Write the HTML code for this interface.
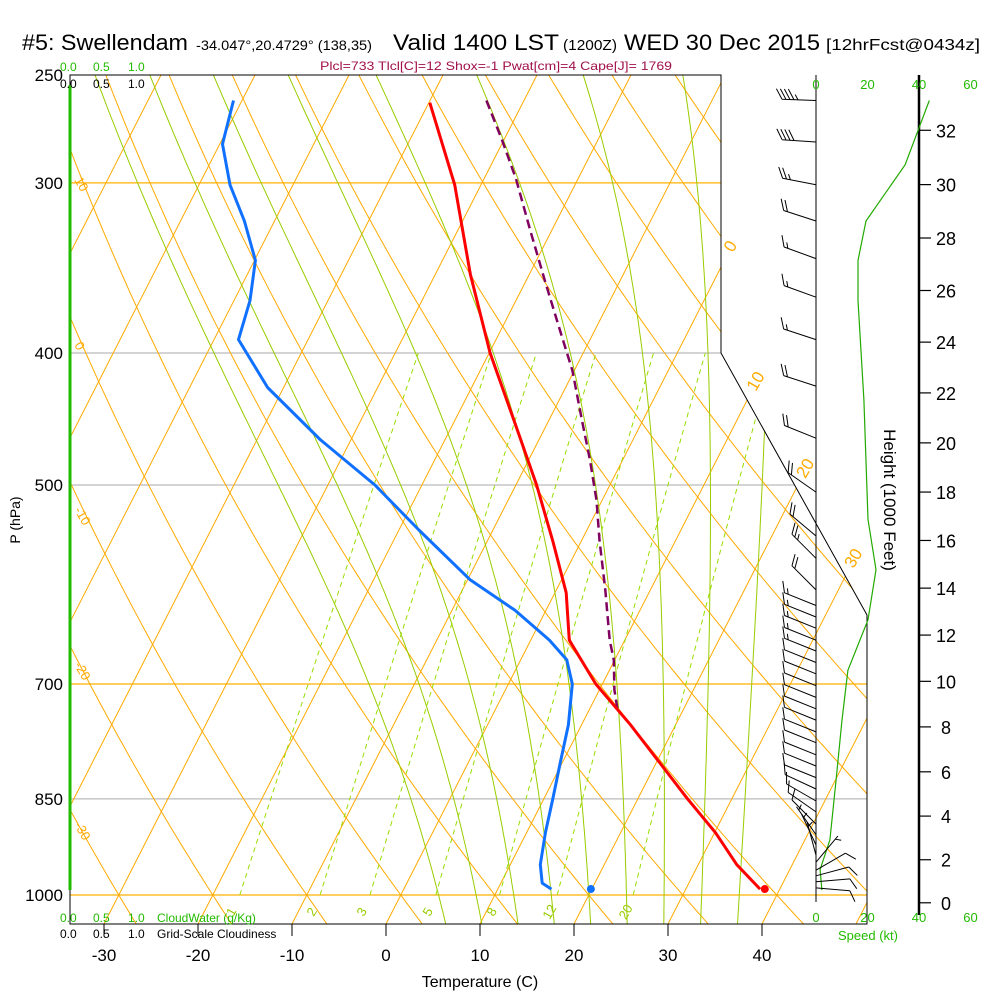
<!DOCTYPE html>
<html><head><meta charset="utf-8"><style>
html,body{margin:0;padding:0;background:#fff;}
svg{display:block;font-family:"Liberation Sans",Arial,sans-serif;}
</style></head><body>
<svg id="chart" width="1000" height="1000" viewBox="0 0 1000 1000" xmlns="http://www.w3.org/2000/svg">
<defs><clipPath id="plotclip"><polygon points="70,75 721,75 721,353 867,615 867,924 70,924"/></clipPath></defs>
<g>
<text x="22" y="50" font-size="22" textLength="166" lengthAdjust="spacingAndGlyphs">#5: Swellendam</text>
<text x="196" y="50" font-size="14" textLength="176" lengthAdjust="spacingAndGlyphs">-34.047°,20.4729° (138,35)</text>
<text x="393" y="50" font-size="22" textLength="166" lengthAdjust="spacingAndGlyphs">Valid 1400 LST</text>
<text x="563" y="50" font-size="15" textLength="54" lengthAdjust="spacingAndGlyphs">(1200Z)</text>
<text x="624" y="50" font-size="22" textLength="196" lengthAdjust="spacingAndGlyphs">WED 30 Dec 2015</text>
<text x="826" y="50" font-size="16" textLength="154" lengthAdjust="spacingAndGlyphs">[12hrFcst@0434z]</text>
</g>
<text x="320" y="70" font-size="12" fill="#a0104a" textLength="352" lengthAdjust="spacingAndGlyphs">Plcl=733 Tlcl[C]=12 Shox=-1 Pwat[cm]=4 Cape[J]= 1769</text>
<g id="grid" clip-path="url(#plotclip)"></g>
<g id="profiles" clip-path="url(#plotclip)"></g>
<g id="frame">
<polygon points="70,75 721,75 721,353 867,615 867,924 70,924" fill="none" stroke="#000" stroke-width="1"/>
<line x1="70" y1="85" x2="70" y2="890" stroke="#22bb00" stroke-width="3"/>
<line x1="816" y1="75" x2="816" y2="902" stroke="#000" stroke-width="1"/>
<line x1="919" y1="75" x2="919" y2="915" stroke="#000" stroke-width="2.5"/>
</g>
<g id="labels">
<g font-size="12">
<text x="60" y="71" fill="#22bb00">0.0</text><text x="93" y="71" fill="#22bb00">0.5</text><text x="128" y="71" fill="#22bb00">1.0</text>
<text x="60" y="88" fill="#000">0.0</text><text x="93" y="88" fill="#000">0.5</text><text x="128" y="88" fill="#000">1.0</text>
</g>
<g font-size="12">
<text x="60" y="922" fill="#22bb00">0.0</text><text x="93" y="922" fill="#22bb00">0.5</text><text x="128" y="922" fill="#22bb00">1.0</text>
<text x="157" y="922" fill="#22bb00">CloudWater (g/Kg)</text>
<text x="60" y="938" fill="#000">0.0</text><text x="93" y="938" fill="#000">0.5</text><text x="128" y="938" fill="#000">1.0</text>
<text x="157" y="938" fill="#000">Grid-Scale Cloudiness</text>
</g>
<text x="480" y="987" font-size="16" text-anchor="middle">Temperature (C)</text>
<text transform="translate(20,520) rotate(-90)" font-size="14" text-anchor="middle">P (hPa)</text>
<text transform="translate(884,500) rotate(90)" font-size="17" text-anchor="middle">Height (1000 Feet)</text>
<text x="868" y="940" font-size="13" fill="#22bb00" text-anchor="middle">Speed (kt)</text>
</g>
<g id="dyn"></g>
</svg>
<script>
// ---- data ----
const isobarLevels=[300,400,500,700,850,1000];
const isobarColors=['#ffb000','#bbbbbb','#bbbbbb','#ffb000','#bbbbbb','#ffb000'];
const pressureLabels=[250,300,400,500,700,850,1000];
const tempTicks=[-30,-20,-10,0,10,20,30,40];
const thetaLabelVals=[10,0,-10,-20,-30];
const thetaLabelY=[180,345,510,665,825];
const isoLabelVals=[0,10,20,30];
const isoLabelY=[243,378,465,555];
const mixRatios=[1,2,3,5,8,12,20];
const moistT0=[4,8,12,16,20,24,28,32,36];
const tempP=[262,301,350,400,450,500,550,600,650,700,750,800,850,900,950,990];
const tempC=[-39.9,-32.8,-26.3,-19.9,-13.5,-7.8,-3.0,1.2,4.1,9.3,15.2,20.4,25.3,30.1,34.1,37.9];
const dewP=[261,281,301,320,342,366,391,424,463,500,540,587,618,650,672,700,750,800,852,900,950,980,990];
const dewC=[-60.9,-59.7,-56.7,-53.2,-49.9,-48.3,-47.4,-41.7,-33.3,-25.0,-17.8,-9.7,-3.3,2.0,4.9,6.8,8.6,9.8,11.0,12.0,13.2,14.4,15.7];
const parcelP=[261,279,298,325,354,385,412,448,479,513,549,597,650,672,707,731];
const parcelC=[-34.0,-30.2,-26.6,-22.3,-18.0,-13.7,-10.2,-6.5,-3.5,-0.6,1.9,5.2,8.4,9.9,11.6,13.0];
const sfcTempC=38.4, sfcDewC=19.9, sfcP=990;
const windP=[261,280,301,320,341,364,391,423,462,506,
 545,566,597,613,625,637,650,662,675,688,
 702,716,730,744,759,773,789,804,820,836,
 853,869,887,903,919,935,946,959,968,978,988];
const windDir=[272,274,281,288,290,290,288,288,292,305,
 310,315,315,292,292,292,292,292,292,292,
 292,292,292,292,292,292,292,292,292,295,
 300,305,315,325,335,345,40,60,75,85,95];
const windSpd=[44,38,27,19,16,16,17,18,19,20,
 22,23,21,15,15,15,15,15,12,10,
 10,10,10,10,10,10,10,10,10,10,
 10,10,8,6,5,5,5,8,10,12,12];
const speedP=[261,291,320,342,366,433,530,577,628,684,744,823,911,958,992];
const speedKt=[44,34.6,19.4,16.3,16.3,18.6,20.2,23.3,20.2,12.4,10.1,7.8,5.4,1.6,2.3];
const heightTicks=[0,2,4,6,8,10,12,14,16,18,20,22,24,26,28,30,32];
const speedTicks=[0,20,40,60];

// ---- axes ----
const NS='http://www.w3.org/2000/svg';
const Y0=895, SC=591.5;
function yP(p){return Y0-SC*Math.log(1000/p);}
function xT(T,y){return 386+9.4*T+0.51*(924-y);}
function xSpd(s){return 816+s*51.5/20;}
function mk(tag,attrs,parent){const e=document.createElementNS(NS,tag);for(const k in attrs)e.setAttribute(k,attrs[k]);parent.appendChild(e);return e;}
const grid=document.getElementById('grid'), prof=document.getElementById('profiles'), dyn=document.getElementById('dyn');
function pathFrom(pts){return pts.map((q,i)=>(i?'L':'M')+q[0].toFixed(1)+','+q[1].toFixed(1)).join('');}

// isobars
isobarLevels.forEach((p,i)=>{const y=yP(p);
 const l=mk('line',{x1:70,y1:y,x2:867,y2:y,stroke:isobarColors[i],'stroke-width':1.2},grid);
 
 });
// isotherms
for(let T=-110;T<=50;T+=10){const y1=924,y2=75;
 const l=mk('line',{x1:xT(T,y1),y1:y1,x2:xT(T,y2),y2:y2,stroke:'#ffaa00','stroke-width':1},grid);
 
 }
// dry adiabats
for(let th=-40;th<=140;th+=10){const pts=[];
 for(let p=1050;p>=250;p-=10){const T=(th+273.15)*Math.pow(p/1000,0.2857)-273.15;const y=yP(p);pts.push([xT(T,y),y]);}
 const e=mk('path',{d:pathFrom(pts),fill:'none',stroke:'#ffaa00','stroke-width':1},grid);
 
 }
// moist adiabats
function es(T){return 6.112*Math.exp(17.67*T/(T+243.5));}
function moist(T0){const out=[];let T=T0+273.15;const Rd=287,cp=1005,L=2.5e6,eps=0.622;
 function dTdp(T,p){const rs=eps*es(T-273.15)/(p-es(T-273.15));return (Rd*T+L*rs)/(p*(cp+L*L*rs*eps/(Rd*T*T)));}
 let Td=T;for(let p=1000;p<1050;p+=5){Td+=dTdp(Td,p)*5;}
 T=Td;for(let p=1050;p>=250;p-=5){const y=yP(p);out.push([xT(T-273.15,y),y]);T-=dTdp(T,p)*5;}
 return out;}
moistT0.forEach(t0=>{const e=mk('path',{d:pathFrom(moist(t0)),fill:'none',stroke:'#99cc00','stroke-width':1},grid);
 
 });
// mixing ratio lines
function mixT(w,p){const e=w*p/(622+w);const a=Math.log(e/6.112);return 243.5*a/(17.67-a);}
mixRatios.forEach(w=>{const pts=[];for(let p=1000;p>=400;p-=10){const y=yP(p);pts.push([xT(mixT(w,p),y),y]);}
 const e=mk('path',{d:pathFrom(pts),fill:'none',stroke:'#99dd00','stroke-width':1,'stroke-dasharray':'5,4'},grid);
 
 
 const y=910,p=1000*Math.exp((y-Y0)/SC),x=xT(mixT(w,p),y);
 const t=mk('text',{x:0,y:0,'font-size':13,fill:'#99cc00','text-anchor':'middle',transform:'translate('+x.toFixed(1)+','+(y+4)+') rotate(-60)'},dyn);
 t.textContent=String(w);
 
 });
// theta labels
thetaLabelVals.forEach((v,i)=>{const t=mk('text',{'font-size':13,fill:'#ffaa00',transform:'translate(74,'+thetaLabelY[i]+') rotate(60)'},dyn);
 t.textContent=String(v);
 
 });
// isotherm labels
isoLabelVals.forEach((v,i)=>{const y=isoLabelY[i];const t=mk('text',{'font-size':17,fill:'#ffaa00','text-anchor':'middle',transform:'translate('+(xT(v,y)+2).toFixed(1)+','+(y+6)+') rotate(-60)'},dyn);
 t.textContent=String(v);
 
 });

// profiles
function prof2pts(P,C){return P.map((p,i)=>{const y=yP(p);return [xT(C[i],y),y];});}
let e=mk('path',{d:pathFrom(prof2pts(parcelP,parcelC)),fill:'none',stroke:'#800060','stroke-width':2.5,'stroke-dasharray':'9,5'},prof);


e=mk('path',{d:pathFrom(prof2pts(dewP,dewC)),fill:'none',stroke:'#1070ff','stroke-width':3,'stroke-linejoin':'round'},prof);


e=mk('path',{d:pathFrom(prof2pts(tempP,tempC)),fill:'none',stroke:'#ff0000','stroke-width':3,'stroke-linejoin':'round'},prof);


{const y=yP(sfcP);
 e=mk('circle',{cx:xT(sfcTempC,y),cy:y,r:4,fill:'#ff0000'},dyn);
 
 
 e=mk('circle',{cx:xT(sfcDewC,y),cy:y,r:4,fill:'#1070ff'},dyn);
 
 }

// pressure labels
pressureLabels.forEach(p=>{const t=mk('text',{x:63,y:yP(p)+6,'font-size':17,'text-anchor':'end'},dyn);
 t.textContent=String(p);
 
 });
// temperature ticks
tempTicks.forEach(T=>{const x=xT(T,924);
 const l=mk('line',{x1:x,y1:924,x2:x,y2:936,stroke:'#000'},dyn);
 
 
 const t=mk('text',{x:x,y:961,'font-size':17,'text-anchor':'middle'},dyn);
 t.textContent=String(T);
 
 });
// height ticks
heightTicks.forEach(h=>{const z=h*304.8;const p=1013.25*Math.pow(1-z/44330.8,5.2559);const y=yP(p);
 const l=mk('line',{x1:919,y1:y,x2:931,y2:y,stroke:'#000','stroke-width':1.2},dyn);
 
 
 const t=mk('text',{x:946,y:y+7,'font-size':18,'text-anchor':'middle'},dyn);
 t.textContent=String(h);
 
 });
// speed ticks labels
speedTicks.forEach(s=>{[89,922].forEach(y=>{const t=mk('text',{x:xSpd(s),y:y,'font-size':13,fill:'#22bb00','text-anchor':'middle'},dyn);
 t.textContent=String(s);
 
 });});
// speed profile
e=mk('path',{d:pathFrom(speedP.map((p,i)=>[xSpd(speedKt[i]),yP(p)])),fill:'none',stroke:'#22aa00','stroke-width':1.2},dyn);


// wind barbs
function rot(v,a){const c=Math.cos(a),s=Math.sin(a);return [v[0]*c-v[1]*s,v[0]*s+v[1]*c];}
windP.forEach((p,i)=>{const y=yP(p),d=windDir[i]*Math.PI/180,L=34;
 const u=[Math.sin(d),-Math.cos(d)];const tip=[816+u[0]*L,y+u[1]*L];
 const f=rot(u,Math.PI/3);let path='M816,'+y.toFixed(1)+'L'+tip[0].toFixed(1)+','+tip[1].toFixed(1);
 let s=Math.round(windSpd[i]/5)*5;let pos=0;
 while(s>=50){const a=[tip[0]-u[0]*pos,tip[1]-u[1]*pos],b=[tip[0]-u[0]*(pos+5),tip[1]-u[1]*(pos+5)];
  path+='M'+a[0]+','+a[1]+'L'+(a[0]+f[0]*12)+','+(a[1]+f[1]*12)+'L'+b[0]+','+b[1]+'Z';pos+=7;s-=50;}
 while(s>=10){const a=[tip[0]-u[0]*pos,tip[1]-u[1]*pos];path+='M'+a[0]+','+a[1]+'l'+(f[0]*12)+','+(f[1]*12);pos+=4;s-=10;}
 if(s>=5){if(pos===0)pos=4;const a=[tip[0]-u[0]*pos,tip[1]-u[1]*pos];path+='M'+a[0]+','+a[1]+'l'+(f[0]*6)+','+(f[1]*6);}
 const b=mk('path',{d:path,fill:'none',stroke:'#000','stroke-width':1},dyn);
 
 });
</script>
</body></html>
